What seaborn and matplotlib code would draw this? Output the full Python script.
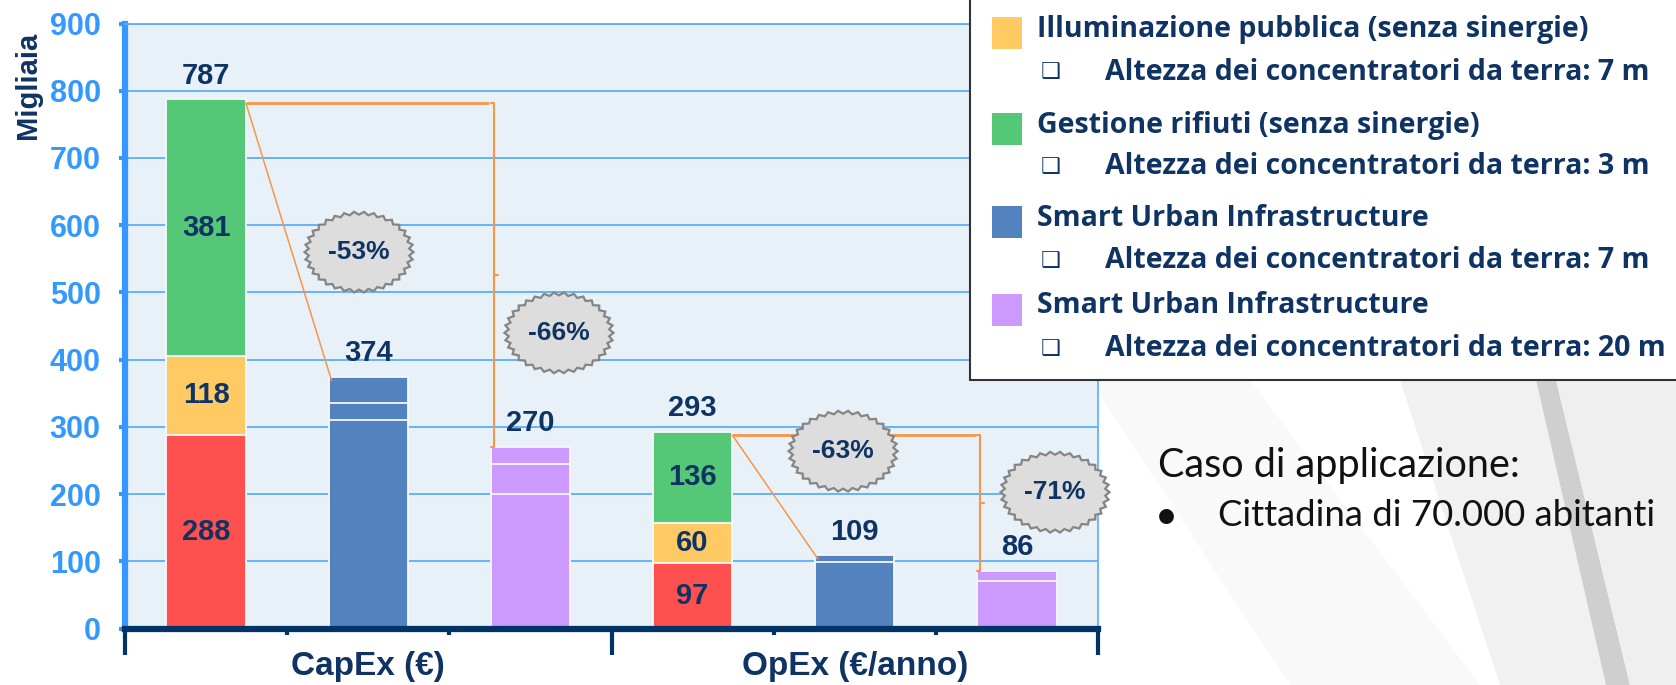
import numpy as np
import pandas as pd
import matplotlib
matplotlib.use('Agg')
import matplotlib.pyplot as plt
import seaborn as sns
from matplotlib import font_manager
from matplotlib.patches import Rectangle, Polygon

# dati (migliaia di euro), segmenti dal basso verso l'alto
barre = ['capex_base', 'capex_sui7', 'capex_sui20', 'opex_base', 'opex_sui7', 'opex_sui20']
strato1 = [288, 310, 200, 97, 99, 71]
strato2 = [118, 25, 45, 60, 10, 15]
strato3 = [381, 39, 25, 136, 0, 0]
etichette_interne = [True, False, False, True, False, False]
gruppi = ['CapEx (€)', 'OpEx (€/anno)']

# confronti per le stelle: (barra di partenza, barra di arrivo) e riduzione indicata
confronti = [(0, 1), (0, 2), (3, 4), (3, 5)]
riduzioni = ['-53%', '-66%', '-63%', '-71%']

legenda_titoli = ['Illuminazione pubblica (senza sinergie)', 'Gestione rifiuti (senza sinergie)',
                  'Smart Urban Infrastructure', 'Smart Urban Infrastructure']
legenda_note = ['Altezza dei concentratori da terra: 7 m', 'Altezza dei concentratori da terra: 3 m',
                'Altezza dei concentratori da terra: 7 m', 'Altezza dei concentratori da terra: 20 m']

ROSSO, GIALLO, VERDE, BLU, VIOLA = '#FF5050', '#FFC964', '#55C878', '#5383BE', '#CC99FF'
colori1 = [ROSSO, BLU, VIOLA, ROSSO, BLU, VIOLA]
colori2 = [GIALLO, BLU, VIOLA, GIALLO, BLU, VIOLA]
colori3 = [VERDE, BLU, VIOLA, VERDE, BLU, VIOLA]
legenda_colori = [GIALLO, VERDE, BLU, VIOLA]

NAVY = '#0F3464'
AZZURRO = '#3399FF'
ARANCIO = '#F79646'

sns.set_style('white')
nomi_font = {f.name for f in font_manager.fontManager.ttflist}
STRETTO = 'Liberation Sans Narrow' if 'Liberation Sans Narrow' in nomi_font else 'Liberation Sans'
plt.rcParams['font.family'] = ['Liberation Sans', 'DejaVu Sans']

W, H = 1676, 685
fig = plt.figure(figsize=(W / 100, H / 100), dpi=100)


def fx(px):
    return px / W


def fy(py):
    return 1 - py / H


# sfondo della slide
for pts, col in [([(1090, 380), (1250, 380), (1480, 685), (1290, 685)], '#F9F9F9'),
                 ([(1400, 380), (1536, 380), (1606, 685), (1500, 685)], '#F1F1F1'),
                 ([(1536, 380), (1556, 380), (1630, 685), (1606, 685)], '#CFCFCF'),
                 ([(1556, 380), (1676, 380), (1676, 685), (1630, 685)], '#EFEFEF')]:
    fig.add_artist(Polygon([(fx(x), fy(y)) for x, y in pts], closed=True, transform=fig.transFigure,
                           facecolor=col, edgecolor='none', zorder=-5))

ax = fig.add_axes([fx(125), fy(628.7), fx(1098) - fx(125), fy(23.5) - fy(628.7)])
ax.set_facecolor('#E9F1F8')

tot = np.array(strato1) + np.array(strato2) + np.array(strato3)
cum2 = np.array(strato1) + np.array(strato2)

# barre impilate: si disegnano le somme cumulative dall'alto verso il basso
for valori, colori in [(tot, colori3), (cum2, colori2), (np.array(strato1), colori1)]:
    df = pd.DataFrame({'barra': barre, 'valore': valori, 'colore': colori})
    sns.barplot(data=df, x='barra', y='valore', hue='colore', order=barre,
                palette={c: c for c in set(colori)}, dodge=False, width=0.49, saturation=1,
                edgecolor='#F4F8FC', linewidth=1.3, legend=False, ax=ax, zorder=2)

ax.set_xlim(-0.5, 5.5)
ax.set_ylim(0, 900)
ax.set_xlabel('')
ax.set_ylabel('')
ax.set_axisbelow(True)
ax.set_yticks(range(0, 901, 100))
ax.yaxis.grid(True, color='#5AAEFF', linewidth=1.3)
ax.xaxis.grid(False)
for lab in ax.get_yticklabels():
    lab.set_fontweight('bold')
ax.tick_params(axis='y', direction='out', length=4.5, width=3, color=AZZURRO,
               labelcolor=AZZURRO, labelsize=22, pad=13, left=True)
ax.set_xticks([-0.5, 2.5, 5.5])
ax.set_xticklabels([])
ax.set_xticks([0.5, 1.5, 3.5, 4.5], minor=True)
ax.tick_params(axis='x', which='major', direction='out', length=19, width=3, color='#003366', bottom=True)
ax.tick_params(axis='x', which='minor', direction='out', length=4, width=3, color='#003366', bottom=True)

ax.spines['left'].set_color(AZZURRO)
ax.spines['left'].set_linewidth(4.5)
ax.spines['bottom'].set_color('#003366')
ax.spines['bottom'].set_linewidth(4.5)
ax.spines['top'].set_color('#5AAEFF')
ax.spines['top'].set_linewidth(1.3)
ax.spines['right'].set_color('#66B2FF')
ax.spines['right'].set_linewidth(1.3)

for g, lab in enumerate(gruppi):
    ax.text(1 + 3 * g, -0.063, lab, transform=ax.get_xaxis_transform(), ha='center', va='center',
            fontsize=24, fontweight='bold', color=NAVY)

# etichette dei valori
for i in range(len(barre)):
    if etichette_interne[i]:
        base = 0
        for v in [strato1[i], strato2[i], strato3[i]]:
            ax.text(i, base + v / 2, str(v), ha='center', va='center', fontsize=21,
                    fontweight='bold', color=NAVY, family=STRETTO, zorder=4)
            base += v
    ax.annotate(str(tot[i]), (i, tot[i]), xytext=(0, 7), textcoords='offset points',
                ha='center', va='bottom', fontsize=21, fontweight='bold', color=NAVY,
                family=STRETTO, zorder=4)

# linee di confronto e stelle
half = 0.245
pos_stelle = [(0.943, 560), (2.176, 440), (3.928, 264), (5.235, 203)]
rx, ry = 54.5 / 162.17, 40.5 / 0.6723
n = 68
t = np.linspace(0, 2 * np.pi, n, endpoint=False)
r = np.where(np.arange(n) % 2 == 0, 1.0, 0.925)

for (a, b), (cx, cy), testo in zip(confronti, pos_stelle, riduzioni):
    yh = tot[a] - 5
    if b == a + 1:
        ax.plot([a + half, b - half + 0.02], [yh, tot[b] - 6], color=ARANCIO, lw=1.1, zorder=5,
                solid_capstyle='butt')
    else:
        bx = b - half + 0.02
        ax.plot([a + half, bx - 0.03], [yh, yh], color=ARANCIO, lw=2, zorder=5, solid_capstyle='butt')
        ym = (yh + tot[b]) / 2
        ax.plot([bx - 0.02, bx, bx, bx - 0.02], [yh, yh, tot[b], tot[b]], color=ARANCIO, lw=1.5, zorder=5)
        ax.plot([bx, bx + 0.025], [ym, ym], color=ARANCIO, lw=1.5, zorder=5)
    stella = Polygon(np.column_stack([cx + rx * r * np.cos(t), cy + ry * r * np.sin(t)]), closed=True,
                     facecolor='#DDDDDD', edgecolor='#858585', linewidth=1.6, zorder=6, clip_on=False)
    ax.add_patch(stella)
    ax.text(cx, cy, testo, ha='center', va='center', fontsize=19, fontweight='bold',
            color=NAVY, zorder=7, clip_on=False)

# titolo asse y
fig.text(fx(28), fy(85), 'Migliaia', rotation=90, ha='center', va='center', fontsize=21,
         fontweight='bold', color=NAVY)

# legenda
fig.add_artist(Rectangle((fx(970), fy(379.5)), fx(1680) - fx(970), fy(-5) - fy(379.5),
                         transform=fig.transFigure, facecolor='white', edgecolor='#333333',
                         linewidth=1.5, zorder=5))
righe_titolo = [29, 125, 218, 306]
righe_nota = [72, 167, 261, 349]
for tit, nota, col, yt, yn in zip(legenda_titoli, legenda_note, legenda_colori, righe_titolo, righe_nota):
    fig.add_artist(Rectangle((fx(992), fy(yt + 20)), fx(30), fy(0) - fy(32), transform=fig.transFigure,
                             facecolor=col, edgecolor='none', zorder=6))
    fig.text(fx(1037), fy(yt), tit, ha='left', va='center', fontsize=20.5, fontweight='bold',
             color=NAVY, family=['Open Sans', 'DejaVu Sans'], zorder=7)
    fig.text(fx(1051), fy(yn), '❑', ha='center', va='center', fontsize=16,
             color=NAVY, family=['DejaVu Sans'], zorder=7)
    fig.text(fx(1105), fy(yn), nota, ha='left', va='center', fontsize=20.5, fontweight='bold',
             color=NAVY, family=['Open Sans', 'DejaVu Sans'], zorder=7)

# testo a destra
fig.text(fx(1158), fy(465), 'Caso di applicazione:', ha='left', va='center', fontsize=28.5,
         color='#111111', family=['Lato', 'DejaVu Sans'])
fig.text(fx(1166), fy(517), '•', ha='center', va='center', fontsize=28.5,
         color='#111111', family=['Lato', 'DejaVu Sans'])
fig.text(fx(1218), fy(515), 'Cittadina di 70.000 abitanti', ha='left', va='center', fontsize=26.3,
         color='#111111', family=['Lato', 'DejaVu Sans'])

fig.savefig('out.png', dpi=100)
